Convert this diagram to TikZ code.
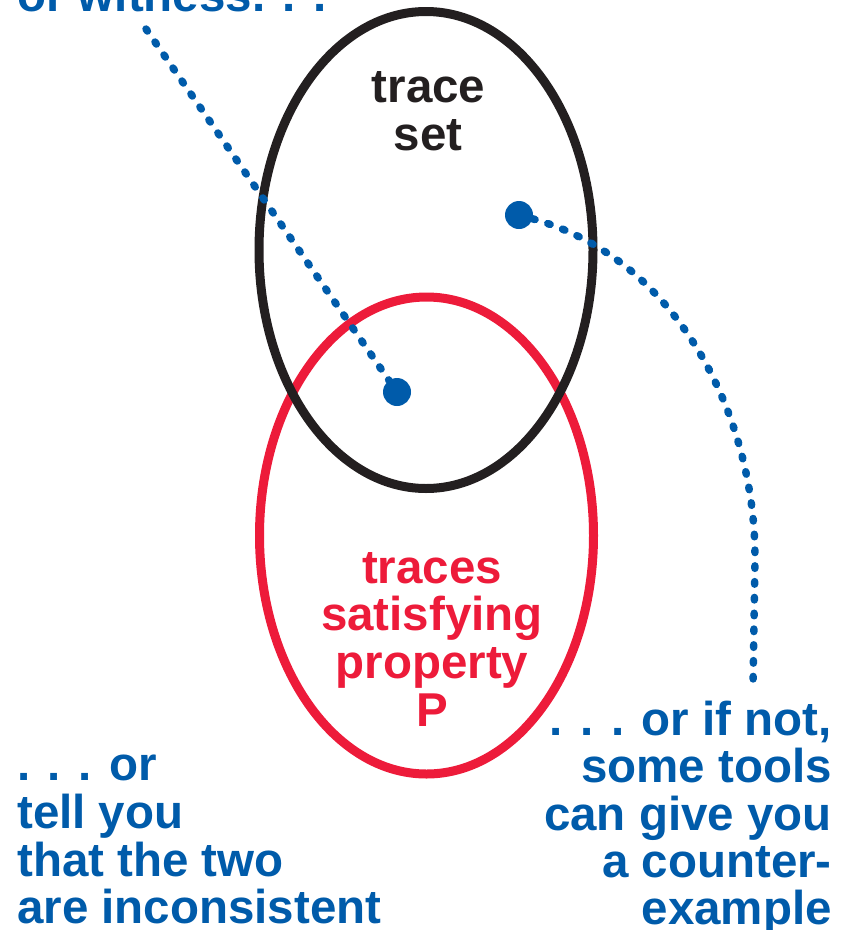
\documentclass[tikz,border=0pt]{standalone}
\usepackage{fontspec}
\setmainfont{Liberation Sans}
\usetikzlibrary{shapes.geometric}
\definecolor{tblue}{RGB}{0,91,170}
\definecolor{tred}{RGB}{237,27,58}
\definecolor{tblack}{RGB}{35,31,32}
\begin{document}
\begin{tikzpicture}[x=1pt,y=-1pt,
 lbl/.style={inner sep=0pt, font=\fontsize{47.5}{47.5}\selectfont\bfseries},
 dotline/.style={tblue, line width=7.5pt, line cap=round, dash pattern=on 2.5pt off 13.3pt},
 setell/.style={ellipse, draw, line width=9pt, minimum width=334pt, minimum height=477pt, inner sep=0pt},
 blob/.style={circle, fill=tblue, inner sep=0pt, minimum size=28pt}]
\useasboundingbox (0,0) rectangle (850,930);
\clip (0,0) rectangle (850,930);
% sets
\node[setell, tred] (prop) at (426.5,535.5) {};
\node[setell, tblack] (tset) at (426,250) {};
% labels in the sets
\node[lbl, tblack, anchor=base] (ts1) at (428.5,102) {trace};
\node[lbl, tblack, anchor=base] (ts2) at (428,150) {set};
\node[lbl, tred, anchor=base] (p1) at (432,583) {traces};
\node[lbl, tred, anchor=base] (p2) at (432,630) {satisfying};
\node[lbl, tred, anchor=base] (p3) at (432,678) {property};
\node[lbl, tred, anchor=base] (p4) at (432,726) {P};
% top text
\node[lbl, tblue, anchor=base west] (t1) at (17,11) {or witness. . .};
% left text
\node[lbl, tblue, anchor=base west] (l1) at (17,780) {. . . or};
\node[lbl, tblue, anchor=base west] (l2) at (17,828) {tell you};
\node[lbl, tblue, anchor=base west] (l3) at (17,876) {that the two};
\node[lbl, tblue, anchor=base west] (l4) at (17,923) {are inconsistent};
% right text
\node[lbl, tblue, anchor=base east] (r1) at (832,735) {. . . or if not,};
\node[lbl, tblue, anchor=base east] (r2) at (832,782) {some tools};
\node[lbl, tblue, anchor=base east] (r3) at (832,830) {can give you};
\node[lbl, tblue, anchor=base east] (r4) at (832,877) {a counter-};
\node[lbl, tblue, anchor=base east] (r5) at (832,924) {example};
% points
\node[blob] (w) at (397,392) {};
\node[blob] (c) at (519,215) {};
\coordinate (wstart) at (146,29);
\coordinate (cend) at (753,688);
\draw[dotline] (wstart) -- (w);
\draw[dotline] (c) .. controls (680,260) and (756,420) .. (755,560) -- (cend);
\end{tikzpicture}
\end{document}
